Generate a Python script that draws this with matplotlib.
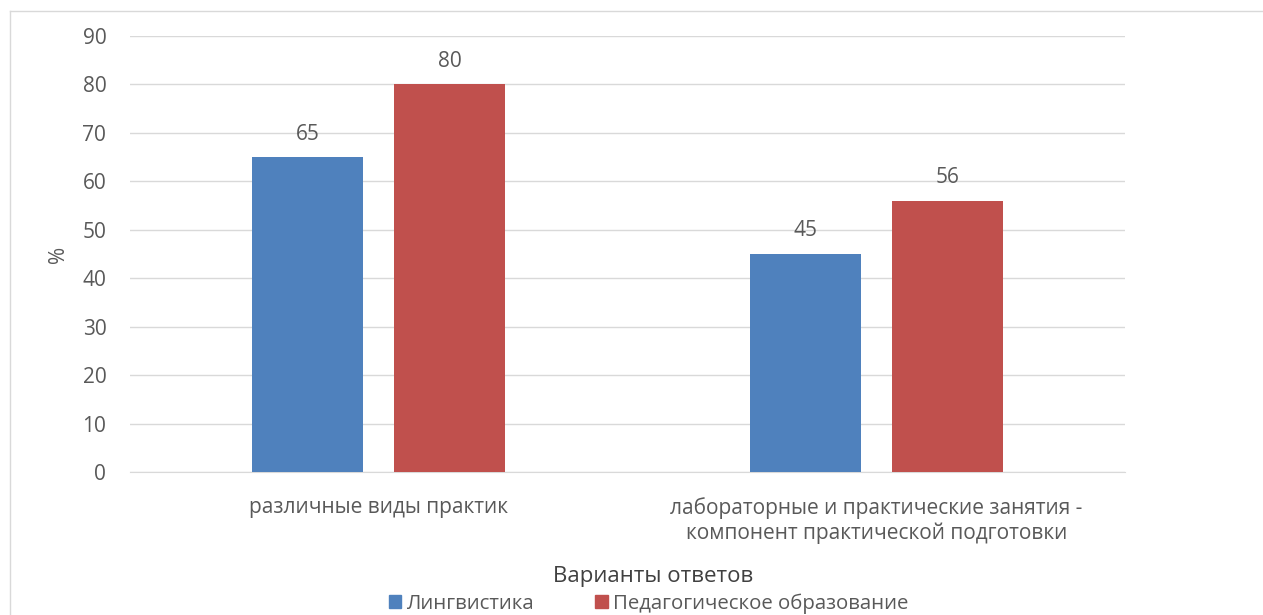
import matplotlib.pyplot as plt
from matplotlib.patches import Patch
from matplotlib.lines import Line2D
import numpy as np

plt.rcParams['font.family'] = ['Open Sans', 'DejaVu Sans']

categories = ["различные виды практик",
              "лабораторные и практические занятия -\nкомпонент практической подготовки"]
lingvistika = [65, 45]
pedagogika = [80, 56]
series_names = ["Лингвистика", "Педагогическое образование"]

blue = "#4F81BD"
red = "#C0504D"
text_col = "#595959"
grid_col = "#D9D9D9"

fig = plt.figure(figsize=(12.63, 6.15), dpi=100)
ax = fig.add_axes([0.1029, 0.2325, 0.7878, 0.709])

x = np.arange(len(categories))
w = 0.223
off = 0.1425
b1 = ax.bar(x - off, lingvistika, w, color=blue, zorder=3)
b2 = ax.bar(x + off, pedagogika, w, color=red, zorder=3)

for bars in (b1, b2):
    for r in bars:
        ax.annotate(f"{r.get_height():g}", (r.get_x() + r.get_width() / 2, r.get_height()),
                    xytext=(0, 9), textcoords="offset points", ha="center", va="bottom",
                    fontsize=15, color=text_col)

ax.set_xlim(-0.5, 1.5)
ax.set_ylim(0, 90)
ax.set_yticks(range(0, 91, 10))
ax.yaxis.grid(True, color=grid_col, lw=1, zorder=0)
ax.set_xticks(x)
ax.set_xticklabels(categories, linespacing=1.21)
ax.tick_params(axis="x", length=0, pad=18, labelsize=15, labelcolor=text_col)
ax.tick_params(axis="y", length=0, pad=17, labelsize=15, labelcolor=text_col)
for s in ("top", "right", "left"):
    ax.spines[s].set_visible(False)
ax.spines["bottom"].set_color(grid_col)

ax.set_ylabel("%", fontsize=15, color=text_col)
ax.yaxis.set_label_coords(-0.0615, 0.5)

fig.text(0.5174, 0.063, "Варианты ответов", ha="center", va="center",
         fontsize=16, color="#404040")

handles = [Patch(color=blue), Patch(color=red)]
fig.legend(handles, series_names, loc="center", bbox_to_anchor=(0.5135, 0.019),
           ncol=2, frameon=False, fontsize=14.7, labelcolor=text_col,
           handlelength=0.6, handleheight=0.6, handletextpad=0.25, columnspacing=3.0,
           borderaxespad=0, borderpad=0)

# thin frame lines (top and left) around the chart area
fig.add_artist(Line2D([10 / 1263, 1], [1 - 11 / 615, 1 - 11 / 615], color=grid_col, lw=1,
                      transform=fig.transFigure))
fig.add_artist(Line2D([10 / 1263, 10 / 1263], [0, 1 - 11 / 615], color=grid_col, lw=1,
                      transform=fig.transFigure))

fig.savefig("out.png", dpi=100)
